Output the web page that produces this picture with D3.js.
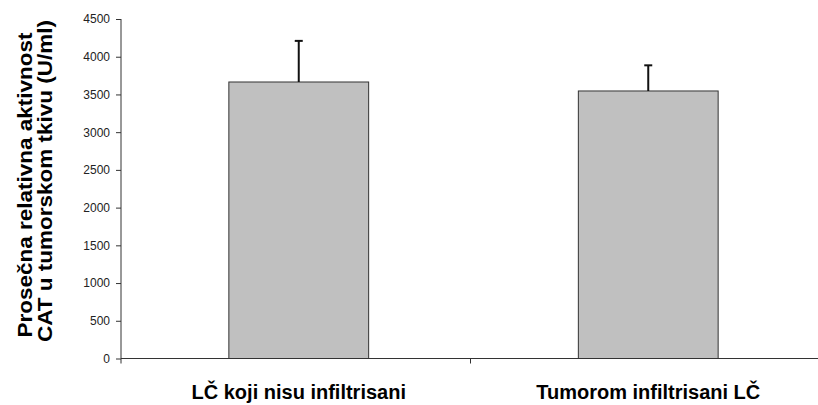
<!DOCTYPE html>
<html>
<head>
<meta charset="utf-8">
<script src="https://cdn.jsdelivr.net/npm/d3@7"></script>
<style>
  html, body { margin: 0; padding: 0; background: #fff; }
  svg { display: block; }
</style>
</head>
<body>
<svg id="chart" width="818" height="405"></svg>
<script>
// Mean relative CAT activity in tumour tissue (U/ml), with standard deviation
const categories = ["LČ koji nisu infiltrisani", "Tumorom infiltrisani LČ"];
const means = [3665, 3546];
const deviations = [545, 340];
const yTicks = [0, 500, 1000, 1500, 2000, 2500, 3000, 3500, 4000, 4500];
const yTitle = ["Prosečna relativna aktivnost", "CAT u tumorskom tkivu (U/ml)"];

const svg = d3.select("#chart");
const plotLeft = 121, plotRight = 820, plotTop = 19, plotBottom = 358.5;

const x = d3.scaleBand().domain(categories).range([plotLeft, plotRight]).paddingInner(0).paddingOuter(0);
const y = d3.scaleLinear().domain([0, 4500]).range([plotBottom, plotTop]);
const barW = x.bandwidth() * 0.4;

// Bars
svg.append("g").selectAll("rect").data(categories).join("rect")
  .attr("x", (d) => x(d) + (x.bandwidth() - barW) / 2 + 3)
  .attr("y", (d, i) => y(means[i]))
  .attr("width", barW)
  .attr("height", (d, i) => y(0) - y(means[i]))
  .attr("fill", "#c0c0c0")
  .attr("stroke", "#333")
  .attr("stroke-width", 1);

// Upper error bars
const err = svg.append("g").attr("stroke", "#111").attr("stroke-width", 2);
categories.forEach((c, i) => {
  const cx = x(c) + x.bandwidth() / 2 + 3;
  err.append("line").attr("x1", cx).attr("x2", cx)
    .attr("y1", y(means[i])).attr("y2", y(means[i] + deviations[i]));
  err.append("line").attr("x1", cx - 4).attr("x2", cx + 4)
    .attr("y1", y(means[i] + deviations[i])).attr("y2", y(means[i] + deviations[i]));
});

// Y axis
const yAxis = svg.append("g").attr("transform", `translate(${plotLeft},0)`)
  .call(d3.axisLeft(y).tickValues(yTicks).tickSize(5).tickPadding(6).tickFormat(d3.format("d")));
yAxis.select(".domain").attr("stroke", "#333").attr("d", `M-0,${plotTop}V${plotBottom}`);
yAxis.selectAll(".tick line").attr("stroke", "#333");
yAxis.selectAll(".tick text")
  .attr("font-family", "Liberation Sans, Arial, sans-serif")
  .attr("font-size", 12).attr("fill", "#222");

// X axis: dividers between categories
const xAxisG = svg.append("g");
xAxisG.append("line").attr("x1", plotLeft).attr("x2", plotRight).attr("y1", plotBottom).attr("y2", plotBottom)
  .attr("stroke", "#333").attr("stroke-width", 1);
const edges = [plotLeft, ...categories.slice(1).map((c) => x(c)), plotRight];
xAxisG.selectAll("line.div").data(edges).join("line").attr("class", "div")
  .attr("x1", (d) => d).attr("x2", (d) => d)
  .attr("y1", plotBottom).attr("y2", plotBottom + 5)
  .attr("stroke", "#333");
xAxisG.selectAll("text").data(categories).join("text")
  .attr("x", (d) => x(d) + x.bandwidth() / 2 + 3)
  .attr("y", 399)
  .attr("text-anchor", "middle")
  .attr("font-family", "Liberation Sans, Arial, sans-serif")
  .attr("font-weight", "bold")
  .attr("font-size", 20)
  .attr("fill", "#000")
  .text((d) => d);

// Y title (two lines, rotated, stretched along their length)
const titleLayout = [{ x: 32, cy: 185, len: 305 }, { x: 52, cy: 181, len: 322 }];
yTitle.forEach((t, i) => {
  svg.append("text")
    .attr("transform", `translate(${titleLayout[i].x},${titleLayout[i].cy}) rotate(-90)`)
    .attr("text-anchor", "middle")
    .attr("font-family", "Liberation Sans, Arial, sans-serif")
    .attr("font-weight", "bold")
    .attr("font-size", 20)
    .attr("fill", "#000")
    .attr("textLength", titleLayout[i].len)
    .attr("lengthAdjust", "spacingAndGlyphs")
    .text(t);
});
</script>
</body>
</html>
